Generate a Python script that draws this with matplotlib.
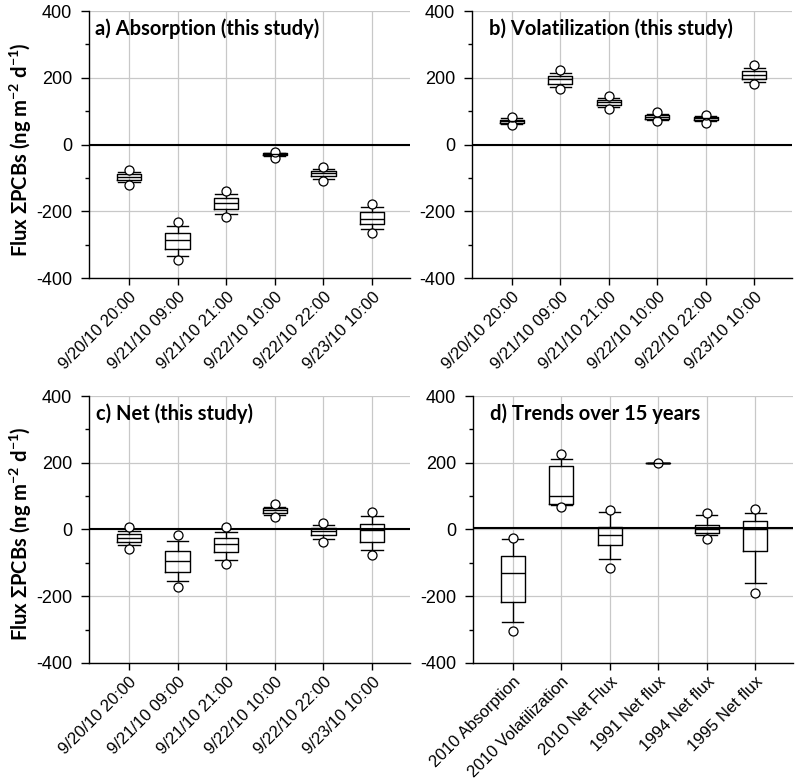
import matplotlib
matplotlib.use("Agg")
import matplotlib.pyplot as plt
from matplotlib.ticker import MultipleLocator

plt.rcParams['font.family'] = ['Liberation Sans', 'DejaVu Sans']
plt.rcParams['axes.unicode_minus'] = False
plt.rcParams['mathtext.fontset'] = 'custom'
plt.rcParams['mathtext.bf'] = 'Lato:bold'
plt.rcParams['mathtext.rm'] = 'Lato:bold'
plt.rcParams['mathtext.default'] = 'bf'

# ---- data (ng m-2 d-1) ----
dates = ['9/20/10 20:00', '9/21/10 09:00', '9/21/10 21:00',
         '9/22/10 10:00', '9/22/10 22:00', '9/23/10 10:00']
trend_labels = ['2010 Absorption', '2010 Volatilization', '2010 Net Flux',
                '1991 Net flux', '1994 Net flux', '1995 Net flux']

# a) absorption
abs_med = [-98, -285, -174, -29, -85, -222]
abs_q1 = [-107, -312, -192, -32, -94, -238]
abs_q3 = [-89, -264, -160, -26, -78, -203]
abs_wlo = [-113, -333, -209, -35, -102, -253]
abs_whi = [-81, -245, -148, -24, -72, -188]
abs_flo = [-120, -347, -218, -39, -108, -264]
abs_fhi = [-77, -232, -138, -22, -67, -178]

# b) volatilization
vol_med = [69, 195, 126, 82, 78, 208]
vol_q1 = [64, 182, 117, 75, 73, 195]
vol_q3 = [74, 205, 133, 88, 83, 221]
vol_wlo = [61, 171, 113, 72, 70, 186]
vol_whi = [78, 213, 139, 92, 85, 228]
vol_flo = [59, 165, 107, 71, 65, 180]
vol_fhi = [81, 223, 144, 97, 87, 238]

# c) net
net_med = [-25, -95, -42, 57, -5, -3]
net_q1 = [-37, -127, -67, 48, -17, -37]
net_q3 = [-13, -64, -26, 64, 5, 17]
net_wlo = [-47, -155, -90, 42, -28, -62]
net_whi = [-5, -35, -7, 68, 12, 39]
net_flo = [-57, -173, -102, 37, -37, -77]
net_fhi = [7, -17, 7, 75, 20, 52]

# d) trends over 15 years
tr_med = [-129, 101, -18, 200, 2, 0]
tr_q1 = [-218, 77, -46, 200, -10, -64]
tr_q3 = [-80, 190, 6, 200, 13, 24]
tr_wlo = [-278, 72, -88, 200, -18, -160]
tr_whi = [-29, 212, 52, 200, 42, 50]
tr_flo = [-303, 68, -116, 200, -28, -190]
tr_fhi = [-25, 225, 59, 200, 49, 61]

panels = [
    ('a) Absorption (this study)', dates,
     abs_med, abs_q1, abs_q3, abs_wlo, abs_whi, abs_flo, abs_fhi, 0),
    ('b) Volatilization (this study)', dates,
     vol_med, vol_q1, vol_q3, vol_wlo, vol_whi, vol_flo, vol_fhi, 0),
    ('c) Net (this study)', dates,
     net_med, net_q1, net_q3, net_wlo, net_whi, net_flo, net_fhi, 0),
    ('d) Trends over 15 years', trend_labels,
     tr_med, tr_q1, tr_q3, tr_wlo, tr_whi, tr_flo, tr_fhi, 5),
]

# axes rectangles in figure fractions
rects = [[0.11125, 0.6445, 0.40125, 0.3414],
         [0.590, 0.6445, 0.400, 0.3414],
         [0.11125, 0.1522, 0.40125, 0.3414],
         [0.59125, 0.1522, 0.400, 0.3414]]
title_x = [0.02, 0.053, 0.022, 0.053]
ylabel_y = [0.808, 0.318]

fig = plt.figure(figsize=(8, 7.82), dpi=100)

for i, (title, labels, med, q1, q3, wlo, whi, flo, fhi, zline) in enumerate(panels):
    ax = fig.add_axes(rects[i])
    stats = []
    for k in range(len(med)):
        fl = [flo[k], fhi[k]] if flo[k] != fhi[k] else [flo[k]]
        stats.append(dict(med=med[k], q1=q1[k], q3=q3[k],
                          whislo=wlo[k], whishi=whi[k], fliers=fl))
    pos = list(range(len(med)))
    ax.bxp(stats, positions=pos, widths=0.5, capwidths=0.44,
           boxprops=dict(color='black', lw=1.0),
           whiskerprops=dict(color='black', lw=1.0),
           capprops=dict(color='black', lw=1.0),
           medianprops=dict(color='black', lw=1.0),
           flierprops=dict(marker='o', markersize=6.5, markerfacecolor='white',
                           markeredgecolor='black', markeredgewidth=0.9),
           manage_ticks=False, zorder=3)
    ax.axhline(zline, color='black', lw=1.5, zorder=2)

    ax.set_xlim(-0.82, 5.78)
    ax.set_ylim(-400, 400)
    ax.set_xticks(pos)
    ax.set_xticklabels(labels, rotation=45, ha='right', rotation_mode='anchor',
                       fontsize=12)
    ax.yaxis.set_major_locator(MultipleLocator(200))
    ax.yaxis.set_minor_locator(MultipleLocator(100))
    ax.tick_params(axis='y', which='major', labelsize=13, length=6, width=1,
                   direction='out', pad=6)
    ax.tick_params(axis='y', which='minor', length=3, width=1, direction='out')
    ax.tick_params(axis='x', length=5, width=1, direction='out', pad=3)
    ax.grid(True, which='major', color='#c8c8c8', lw=0.9, zorder=0)
    ax.set_axisbelow(True)
    for s in ['top', 'right']:
        ax.spines[s].set_visible(False)
    for s in ['left', 'bottom']:
        ax.spines[s].set_linewidth(1.0)

    ax.text(title_x[i], 0.935, title, transform=ax.transAxes, fontsize=14.5,
            fontweight='bold', family=['Lato', 'DejaVu Sans'],
            ha='left', va='center')

for yy in ylabel_y:
    fig.text(0.026, yy, 'Flux \u03a3PCBs (ng m$^{-2}$ d$^{-1}$)', fontsize=14.5,
             fontweight='bold', family=['Lato', 'DejaVu Sans'],
             rotation=90, ha='center', va='center')

fig.savefig('out.png', dpi=100)
